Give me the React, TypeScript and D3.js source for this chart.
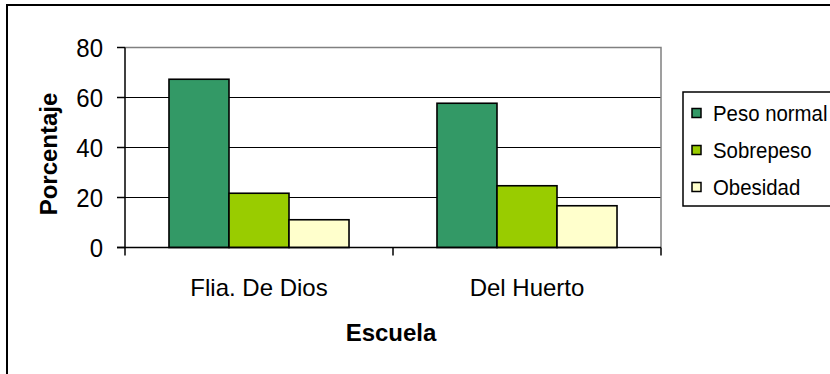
import React from "react";
import * as d3 from "d3";

const categories = ["Flia. De Dios", "Del Huerto"];
const seriesNames = ["Peso normal", "Sobrepeso", "Obesidad"];
const pesoNormal = [67.3, 57.7];
const sobrepeso = [21.7, 24.7];
const obesidad = [11.1, 16.7];
const yTicks = [0, 20, 40, 60, 80];
const seriesColors = ["#339966", "#99CC00", "#FFFFCC"];

const seriesValues = [pesoNormal, sobrepeso, obesidad];

const W = 830;
const H = 374;
const plot = { left: 125, right: 661, top: 47.5, bottom: 247.5 };
const font = "'Liberation Sans', Arial, Helvetica, sans-serif";

export default function App() {
  const x = d3
    .scaleBand<string>()
    .domain(categories)
    .range([plot.left, plot.right])
    .padding(0);
  const xInner = d3
    .scaleBand<string>()
    .domain(seriesNames)
    .range([0, x.bandwidth()])
    .paddingInner(0)
    .paddingOuter(0.733);
  const y = d3.scaleLinear().domain([0, 80]).range([plot.bottom, plot.top]);

  const xTickPositions = [plot.left, ...categories.map((c) => (x(c) as number) + x.bandwidth())];

  return (
    <div style={{ position: "fixed", left: 0, top: 0 }}>
      <svg width={W} height={H} style={{ display: "block" }}>
        <rect x={0} y={0} width={W} height={H} fill="#fff" />
        {/* outer chart frame */}
        <rect x={7} y={5} width={W + 20} height={H + 20} fill="none" stroke="#000" strokeWidth={2} />

        {/* gridlines */}
        {yTicks
          .filter((t) => t !== 0 && t !== 80)
          .map((t) => (
            <line key={t} x1={plot.left} x2={plot.right} y1={y(t)} y2={y(t)} stroke="#000" strokeWidth={1.2} />
          ))}
        {/* plot area border (top & right) */}
        <polyline
          points={`${plot.left},${plot.top} ${plot.right},${plot.top} ${plot.right},${plot.bottom}`}
          fill="none"
          stroke="#808080"
          strokeWidth={1.5}
        />

        {/* bars */}
        {categories.map((c, ci) =>
          seriesNames.map((s, si) => {
            const v = seriesValues[si][ci];
            const bx = (x(c) as number) + (xInner(s) as number);
            return (
              <rect
                key={c + s}
                x={bx}
                y={y(v)}
                width={xInner.bandwidth()}
                height={y(0) - y(v)}
                fill={seriesColors[si]}
                stroke="#000"
                strokeWidth={1.6}
              />
            );
          })
        )}

        {/* y axis */}
        <line x1={plot.left} x2={plot.left} y1={plot.top} y2={plot.bottom} stroke="#000" strokeWidth={1.5} />
        {yTicks.map((t) => (
          <g key={t}>
            <line x1={plot.left - 8} x2={plot.left} y1={y(t)} y2={y(t)} stroke="#000" strokeWidth={1.5} />
            <text
              transform={`translate(103,${y(t)}) scale(1,1.1)`}
              dy="0.36em"
              textAnchor="end"
              fontFamily={font}
              fontSize={24}
              fill="#000"
            >
              {t}
            </text>
          </g>
        ))}

        {/* x axis */}
        <line x1={plot.left - 8} x2={plot.right} y1={y(0)} y2={y(0)} stroke="#000" strokeWidth={1.5} />
        {xTickPositions.map((px, i) => (
          <line key={i} x1={px} x2={px} y1={y(0)} y2={y(0) + 8} stroke="#000" strokeWidth={1.5} />
        ))}
        {categories.map((c) => (
          <text
            key={c}
            x={(x(c) as number) + x.bandwidth() / 2}
            y={296}
            textAnchor="middle"
            fontFamily={font}
            fontSize={24}
            fill="#000"
          >
            {c}
          </text>
        ))}

        {/* axis titles */}
        <text x={391} y={341} textAnchor="middle" fontFamily={font} fontSize={24} fontWeight="bold" fill="#000">
          Escuela
        </text>
        <text
          transform="translate(57,154) rotate(-90)"
          textAnchor="middle"
          fontFamily={font}
          fontSize={24}
          fontWeight="bold"
          fill="#000"
        >
          Porcentaje
        </text>

        {/* legend */}
        <rect x={683} y={92} width={200} height={114} fill="#fff" stroke="#000" strokeWidth={1.5} />
        {seriesNames.map((s, i) => {
          const cy = 113 + i * 37;
          return (
            <g key={s}>
              <rect x={692} y={cy - 4.5} width={9} height={9} fill={seriesColors[i]} stroke="#000" strokeWidth={1.5} />
              <text
                transform={`translate(713,${cy}) scale(1,1.1)`}
                dy="0.36em"
                fontFamily={font}
                fontSize={20.4}
                fill="#000"
              >
                {s}
              </text>
            </g>
          );
        })}
      </svg>
    </div>
  );
}
